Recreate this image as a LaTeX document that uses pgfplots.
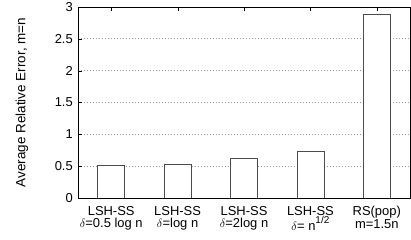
\documentclass[border=0pt]{standalone}
\usepackage{fontspec}
\setmainfont{Liberation Sans}
\usepackage{pgfplots}
\pgfplotsset{compat=1.18}
\begin{document}
\begin{tikzpicture}
\begin{axis}[
  name=ax,
  scale only axis,
  width=332bp, height=191bp,
  xmin=-0.5, xmax=4.5,
  ymin=0, ymax=3,
  ytick={0,0.5,1,1.5,2,2.5,3},
  xtick={0,1,2,3,4},
  xticklabels={{LSH-SS\\$\delta$=0.5 log n},{LSH-SS\\$\delta$=log n},{LSH-SS\\$\delta$=2log n},{LSH-SS\\$\delta$= n\raisebox{0.5em}{\fontsize{10}{10}\selectfont 1/2}},{RS(pop)\\m=1.5n}},
  xticklabel style={align=center, font=\fontsize{13}{12.5}\selectfont, inner sep=2bp, yshift=-6bp},
  yticklabel style={font=\fontsize{13}{13}\selectfont, inner sep=2bp, xshift=-3bp},
  /pgf/number format/assume math mode=true,
  ylabel={Average Relative Error, m=n},
  ylabel style={font=\fontsize{13.5}{13.5}\selectfont, at={(axis description cs:0,0.5)}, anchor=center, yshift=56bp},
  ymajorgrids,
  grid style={gray!80, line width=0.8bp, dash pattern=on 1bp off 2bp},
  tick align=inside,
  ytick pos=left,
  xtick pos=both,
  major tick length=4bp,
  axis line style={black},
  tick style={black},
]
\addplot[ybar, bar width=27bp, fill=white, draw=black!70, semithick] coordinates {(0,0.52) (1,0.53) (2,0.63) (3,0.74) (4,2.88)};
\end{axis}
\pgfresetboundingbox
\path ([xshift=-78bp,yshift=-42bp]ax.south west) rectangle ([xshift=1bp,yshift=7bp]ax.north east);
\end{tikzpicture}
\end{document}
